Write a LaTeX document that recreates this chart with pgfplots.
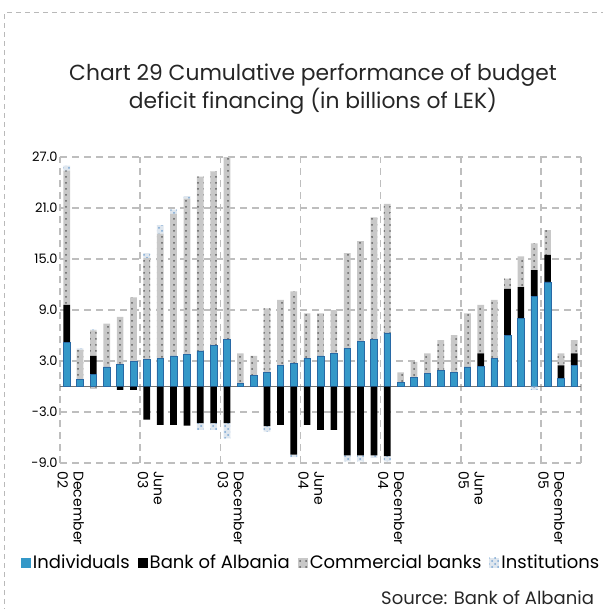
\documentclass[border=0pt]{standalone}
\usepackage{fontspec}
\setmainfont{Poppins}
\usepackage{pgfplots}
\usepackage{pgfplotstable}
\pgfplotsset{compat=1.18}
\usetikzlibrary{patterns}

\definecolor{indblue}{RGB}{52,152,200}
\definecolor{indedge}{RGB}{40,105,165}
\definecolor{cbfill}{RGB}{200,200,200}
\definecolor{cbdot}{RGB}{95,95,95}
\definecolor{instfill}{RGB}{222,230,238}
\definecolor{instdot}{RGB}{120,165,210}
\definecolor{gridgray}{RGB}{190,190,190}

\pgfplotstableread{
k ind boa cb inst
0 5.2 4.4 15.8 0.6
1 0.8 0 3.5 0.2
2 1.4 2.2 3.0 0.1
3 2.3 0 5.1 0
4 2.6 0 5.6 0
5 3.0 0 7.5 0
6 3.2 0 11.9 0.6
7 3.3 0 14.7 1.0
8 3.6 0 16.7 0.5
9 3.8 0 18.3 0.3
10 4.2 0 20.5 0
11 4.8 0 20.5 0
12 5.5 0 21.7 0
13 0.4 0 3.5 0
14 1.3 0 2.3 0
15 1.7 0 7.5 0
16 2.5 0 7.7 0
17 2.7 0 8.5 0
18 3.3 0 5.3 0
19 3.6 0 5.0 0
20 3.9 0 5.1 0
21 4.5 0 11.2 0
22 5.3 0 11.8 0
23 5.5 0 14.4 0
24 6.3 0 15.2 0
25 0.45 0 1.2 0
26 1.1 0 1.8 0
27 1.55 0 2.35 0
28 1.9 0 3.55 0
29 1.7 0 4.35 0
30 2.3 0 6.3 0
31 2.4 1.5 5.7 0
32 3.3 0 6.9 0
33 6.0 5.5 1.2 0
34 8.0 3.7 3.6 0
35 10.6 3.1 3.15 0
36 12.3 3.2 2.9 0
37 1.0 1.5 1.4 0
38 2.45 1.45 1.55 0
}\postab

\pgfplotstableread{
k boa cb inst
0 0 0 0
1 0 0 0
2 0 -0.3 0
3 0 0 0
4 -0.4 0 0
5 -0.4 0 0
6 -3.9 0 0
7 -4.5 0 0
8 -4.5 0 0
9 -4.6 0 0
10 -4.3 0 -0.8
11 -4.3 0 -0.8
12 -4.3 0 -1.8
13 0 0 0
14 0 0 0
15 -4.65 0 -0.65
16 -4.5 0 0
17 -8.0 0 -0.3
18 -4.5 0 0
19 -5.1 0 0
20 -5.1 0 0
21 -8.1 0 -0.7
22 -8.1 0 -0.7
23 -8.1 0 -0.3
24 -8.2 0 -0.6
25 0 0 0
26 0 0 0
27 0 0 0
28 0 0 0
29 0 0 0
30 0 0 0
31 0 0 0
32 0 0 0
33 0 0 0
34 0 0 0
35 0 0 -0.4
36 0 0 0
37 0 0 0
38 0 0 0
}\negtab

\pgfplotsset{
  sqlegend/.style={legend image code/.code={\draw[##1,draw=none] (0pt,-2.6pt) rectangle (5pt,2.6pt);}},
  indstyle/.style={fill=indblue, draw=indedge, line width=0.3pt, sqlegend},
  boastyle/.style={fill=black, draw=none, sqlegend},
  cbstyle/.style={fill=cbfill, draw=none, postaction={pattern=dots, pattern color=cbdot}, sqlegend},
  inststyle/.style={fill=instfill, draw=none, postaction={pattern=crosshatch dots, pattern color=instdot}, sqlegend},
  commonax/.style={
    at={(30pt,-231.5pt)}, anchor=south west,
    scale only axis, width=260.5pt, height=153pt,
    xmin=-0.5, xmax=38.5, ymin=-9, ymax=27,
    ybar stacked, bar width=0.5,
  }
}

\begin{document}
\begin{tikzpicture}
\path[use as bounding box] (0,0) rectangle (301pt,-304.5pt);
\draw[gray!55, line width=0.5pt, dash pattern=on 2.5pt off 2pt] (2.3pt,-320pt) -- (2.3pt,-6.3pt) -- (320pt,-6.3pt);

\node[align=center, font=\fontsize{10.9}{14}\selectfont, text=black!85] at (156.5pt,-44.5pt)
  {Chart 29 Cumulative performance of budget\\deficit financing (in billions of LEK)};

\begin{axis}[commonax,
  axis line style={draw=none},
  ytick={-9,-3,3,9,15,21,27},
  yticklabel style={font=\fontsize{6.5}{7}\selectfont, inner sep=1pt,
    /pgf/number format/.cd, fixed, fixed zerofill, precision=1, assume math mode=true},
  ymajorgrids,
  xtick={0,6,12,18,24,30,36},
  xticklabels={{December\\02},{June\\03},{December\\03},{June\\04},{December\\04},{June\\05},{December\\05}},
  xticklabel style={xshift=2pt, yshift=-3pt, rotate=-90, anchor=west, align=left, font=\fontsize{7}{8}\selectfont, inner sep=1pt},
  minor xtick={-0.5,5.5,11.5,17.5,23.5,29.5,35.5,38.5},
  xminorgrids,
  major tick length=0pt, minor tick length=0pt,
  grid style={gridgray, line width=0.8pt, dash pattern=on 3.5pt off 2.5pt},
  minor grid style={gridgray, line width=0.8pt, dash pattern=on 3.5pt off 2.5pt},
  extra y ticks={0}, extra y tick labels={},
  extra y tick style={grid style={solid, black!55, line width=0.6pt}},
  legend columns=4,
  legend cell align=left,
  legend style={at={(axis description cs:0.482,-0.327)}, anchor=center, draw=none, fill=none,
    font=\fontsize{9}{11}\selectfont, inner sep=0pt,
    nodes={inner sep=1pt},
    /tikz/every even column/.append style={column sep=3pt}},
]
\addplot[indstyle] table[x=k,y=ind]{\postab};
\addlegendentry{Individuals}
\addplot[boastyle] table[x=k,y=boa]{\postab};
\addlegendentry{Bank of Albania}
\addplot[cbstyle] table[x=k,y=cb]{\postab};
\addlegendentry{Commercial banks}
\addplot[inststyle] table[x=k,y=inst]{\postab};
\addlegendentry{Institutions}
\end{axis}

\begin{axis}[commonax, hide axis]
\addplot[boastyle] table[x=k,y=boa]{\negtab};
\addplot[cbstyle] table[x=k,y=cb]{\negtab};
\addplot[inststyle] table[x=k,y=inst]{\negtab};
\end{axis}

\node[anchor=east, font=\fontsize{9}{11}\selectfont, text=black!85] at (300.5pt,-299pt) {Source: Bank of Albania};
\end{tikzpicture}
\end{document}
